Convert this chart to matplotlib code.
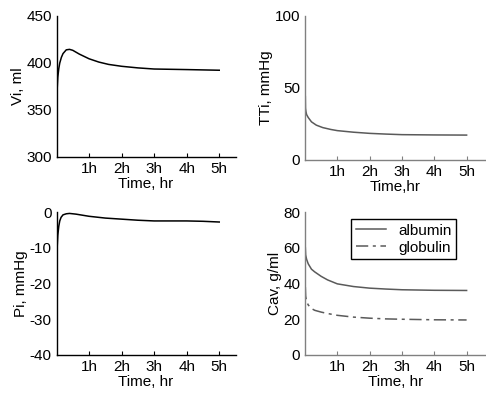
import numpy as np
import matplotlib.pyplot as plt

plt.rcParams['font.family'] = ['Liberation Sans', 'DejaVu Sans']
plt.rcParams['font.size'] = 11
plt.rcParams['axes.unicode_minus'] = False

# time in hours
t_vi = [0, 0.02, 0.04, 0.07, 0.1, 0.15, 0.2, 0.3, 0.4, 0.5, 0.7, 1.0, 1.3, 1.6, 2.0, 2.5, 3.0, 4.0, 5.0]
vi = [350, 372, 385, 394, 400, 406, 410, 414, 414.5, 413.5, 409.5, 404.5, 401, 398.5, 396.5, 394.8, 393.6, 393, 392.3]

t_tti = [0.01, 0.015, 0.03, 0.05, 0.1, 0.2, 0.35, 0.55, 0.8, 1.0, 1.5, 2.0, 2.5, 3.0, 4.0, 5.0]
tti = [44, 36, 33.5, 31.5, 29.5, 26.5, 24.2, 22.5, 21.2, 20.4, 19.3, 18.5, 18.0, 17.6, 17.4, 17.3]

t_pi = [0.01, 0.02, 0.04, 0.07, 0.1, 0.14, 0.2, 0.3, 0.4, 0.6, 1.0, 1.5, 2.0, 2.5, 3.0, 4.0, 4.5, 5.0]
pi = [-16, -10, -6.5, -4, -2.5, -1.5, -0.8, -0.5, -0.4, -0.6, -1.2, -1.7, -2.0, -2.3, -2.5, -2.5, -2.6, -2.8]

t_cav = [0.01, 0.02, 0.05, 0.1, 0.2, 0.3, 0.5, 0.7, 1.0, 1.5, 2.0, 2.5, 3.0, 4.0, 5.0]
albumin = [60, 56, 53.5, 51, 48, 46.5, 44, 42, 39.8, 38.3, 37.4, 36.9, 36.5, 36.2, 36.1]
globulin = [38, 33, 30, 28, 26, 25, 24, 23.2, 22.2, 21.2, 20.6, 20.2, 20, 19.7, 19.6]

hours = [1, 2, 3, 4, 5]
hour_labels = ['1h', '2h', '3h', '4h', '5h']

fig = plt.figure(figsize=(4.86, 3.96), dpi=100)
ax1 = fig.add_axes([56.5/486, 1-157/396, 179/486, 141/396])
ax2 = fig.add_axes([305/486, 1-160/396, 181/486, 144/396])
ax3 = fig.add_axes([56.5/486, 1-355/396, 179/486, 143/396])
ax4 = fig.add_axes([305/486, 1-355/396, 181/486, 143/396])

def style(ax, col, xmax):
    for s in ['top', 'right']:
        ax.spines[s].set_visible(False)
    for s in ['left', 'bottom']:
        ax.spines[s].set_color(col)
        ax.spines[s].set_linewidth(1.0)
    ax.set_xlim(0, xmax)
    ax.set_xticks(hours)
    ax.set_xticklabels(hour_labels)
    ax.tick_params(direction='in', length=3, width=0.8, color=col)
    ax.tick_params(axis='y', length=0)

ax1.plot(t_vi, vi, color='black', lw=1.1)
style(ax1, 'black', 5.5)
ax1.set_ylim(300, 450)
ax1.set_yticks([300, 350, 400, 450])
ax1.set_ylabel('Vi, ml', labelpad=1)
ax1.set_xlabel('Time, hr', labelpad=1)

gray = '#808080'
ax2.plot(t_tti, tti, color='#5a5a5a', lw=1.1)
style(ax2, gray, 5.6)
ax2.set_ylim(0, 100)
ax2.set_yticks([0, 50, 100])
ax2.set_ylabel('TTi, mmHg', labelpad=1)
ax2.set_xlabel('Time,hr', labelpad=1)

ax3.plot(t_pi, pi, color='black', lw=1.1)
style(ax3, 'black', 5.5)
ax3.set_ylim(-40, 0)
ax3.set_yticks([-40, -30, -20, -10, 0])
ax3.set_ylabel('Pi, mmHg', labelpad=1)
ax3.set_xlabel('Time, hr', labelpad=1)

ax4.plot(t_cav, albumin, color='#5a5a5a', lw=1.1, label='albumin')
ax4.plot(t_cav, globulin, color='#5a5a5a', lw=1.1, dashes=(8, 3, 2, 3), label='globulin')
style(ax4, gray, 5.6)
ax4.set_ylim(0, 80)
ax4.set_yticks([0, 20, 40, 60, 80])
ax4.set_ylabel('Cav, g/ml', labelpad=1)
ax4.set_xlabel('Time, hr', labelpad=1)
leg = ax4.legend(loc='upper right', bbox_to_anchor=(0.836, 0.95), fancybox=False,
                 edgecolor='black', framealpha=1, borderaxespad=0, handlelength=2.0,
                 borderpad=0.3, labelspacing=0.2, handletextpad=0.8)
leg.get_frame().set_linewidth(1.0)

fig.savefig('out.png', dpi=100)
